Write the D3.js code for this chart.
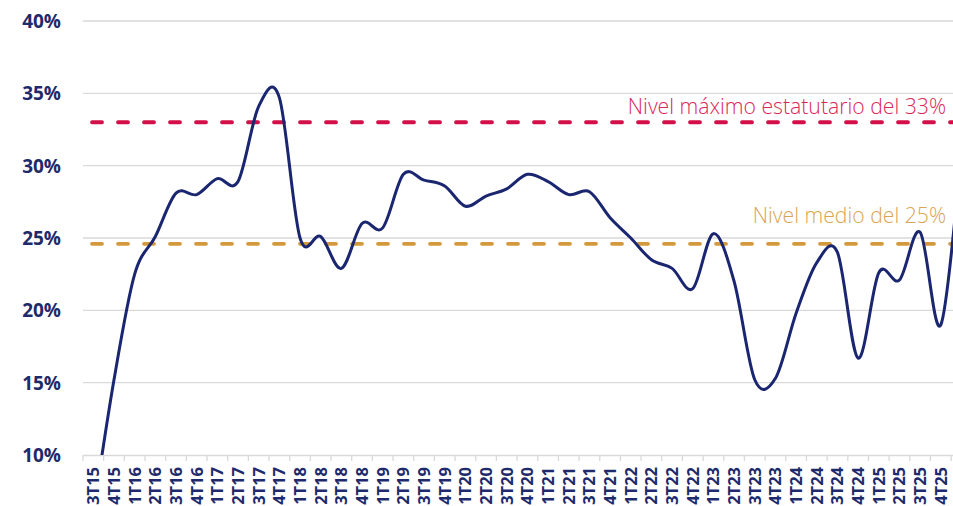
<!DOCTYPE html>
<html>
<head>
<meta charset="utf-8">
<script src="https://cdn.jsdelivr.net/npm/d3@7"></script>
<style>
  body { margin: 0; background: #fff; }
  svg { display: block; }
</style>
</head>
<body>
<script>

var quarters = ["3T15", "4T15", "1T16", "2T16", "3T16", "4T16", "1T17", "2T17", "3T17", "4T17",
    "1T18", "2T18", "3T18", "4T18", "1T19", "2T19", "3T19", "4T19", "1T20", "2T20",
    "3T20", "4T20", "1T21", "2T21", "3T21", "4T21", "1T22", "2T22", "3T22", "4T22",
    "1T23", "2T23", "3T23", "4T23", "1T24", "2T24", "3T24", "4T24", "1T25", "2T25",
    "3T25", "4T25", "1T26"];

// ratio (%) por trimestre
var ratio = [6.0, 15.2, 22.5, 25.1, 28.1, 28.0, 29.1, 28.9, 34.1, 34.7,
    25.0, 25.1, 22.9, 26.0, 25.7, 29.4, 29.0, 28.6, 27.2, 27.9,
    28.4, 29.4, 28.9, 28.0, 28.2, 26.4, 25.0, 23.5, 22.9, 21.5,
    25.3, 22.0, 15.2, 15.3, 19.8, 23.3, 24.0, 16.7, 22.6, 22.1,
    25.4, 19.0, 31.3];

var yTicks = [10, 15, 20, 25, 30, 35, 40];

var refLines = [
    { value: 33, label: "Nivel máximo estatutario del 33%", color: "#d30f48", text: "#d8285a", dy: -8 },
    { value: 24.6, label: "Nivel medio del 25%", color: "#d3993c", text: "#d9a455", dy: -21 }
];

var width = 953, height = 506;
var plotLeft = 83, plotTop = 21, plotBottom = 455;

var svg = d3.select("body")
    .append("svg")
    .attr("width", width)
    .attr("height", height);

var x = d3.scaleBand()
    .domain(quarters)
    .range([plotLeft, plotLeft + quarters.length * 20.67]);

var y = d3.scaleLinear()
    .domain([10, 40])
    .range([plotBottom, plotTop]);

// grid
svg.append("g")
    .selectAll("line")
    .data(yTicks.slice(1))
    .enter().append("line")
    .attr("x1", plotLeft)
    .attr("x2", width)
    .attr("y1", function(d) { return y(d); })
    .attr("y2", function(d) { return y(d); })
    .attr("stroke", "#d9d9d9")
    .attr("stroke-width", 1.3);

// y labels
svg.append("g")
    .selectAll("text")
    .data(yTicks)
    .enter().append("text")
    .attr("x", 61)
    .attr("y", function(d) { return y(d); })
    .attr("dy", "0.36em")
    .attr("text-anchor", "end")
    .style("font-family", "'Open Sans', sans-serif")
    .style("font-weight", 700)
    .style("font-size", "19px")
    .style("fill", "#1e2a6b")
    .text(function(d) { return d + "%"; });

// x axis
var xAxis = d3.axisBottom(x)
    .tickSize(0)
    .tickFormat("");

var gx = svg.append("g")
    .attr("transform", "translate(0," + plotBottom + ")")
    .call(xAxis);
gx.select(".domain").attr("stroke", "#d9d9d9").attr("stroke-width", 1.3);

gx.selectAll(".sep")
    .data(quarters)
    .enter().append("line")
    .attr("class", "sep")
    .attr("x1", function(d) { return x(d); })
    .attr("x2", function(d) { return x(d); })
    .attr("y1", 0)
    .attr("y2", 6)
    .attr("stroke", "#d9d9d9")
    .attr("stroke-width", 1.3);

gx.selectAll(".lbl")
    .data(quarters)
    .enter().append("text")
    .attr("class", "lbl")
    .attr("transform", function(d) {
        return "translate(" + (x(d) + x.bandwidth() / 2) + ",12) rotate(-90)";
    })
    .attr("dy", "0.36em")
    .attr("text-anchor", "end")
    .style("font-family", "'Open Sans', sans-serif")
    .style("font-weight", 700)
    .style("font-size", "16.5px")
    .style("fill", "#1e2a6b")
    .text(function(d) { return d; });

// reference lines
refLines.forEach(function(r) {
    svg.append("line")
        .attr("x1", 92)
        .attr("x2", width)
        .attr("y1", y(r.value))
        .attr("y2", y(r.value))
        .attr("stroke", r.color)
        .attr("stroke-width", 3.8)
        .attr("stroke-linecap", "round")
        .attr("stroke-dasharray", "10 16");

    svg.append("text")
        .attr("x", 946)
        .attr("y", y(r.value) + r.dy)
        .attr("text-anchor", "end")
        .style("font-family", "'Open Sans', sans-serif")
        .style("font-weight", 300)
        .style("font-size", "21.2px")
        .style("fill", r.text)
        .text(r.label);
});

// clip
svg.append("clipPath")
    .attr("id", "plot")
    .append("rect")
    .attr("x", plotLeft)
    .attr("y", 0)
    .attr("width", width - plotLeft)
    .attr("height", plotBottom);

var line = d3.line()
    .x(function(d, i) { return x(quarters[i]) + x.bandwidth() / 2; })
    .y(function(d) { return y(d); })
    .curve(d3.curveCardinal.tension(0));

svg.append("path")
    .datum(ratio)
    .attr("clip-path", "url(#plot)")
    .attr("d", line)
    .attr("fill", "none")
    .attr("stroke", "#1b2670")
    .attr("stroke-width", 3)
    .attr("stroke-linejoin", "round");

</script>
</body>
</html>
